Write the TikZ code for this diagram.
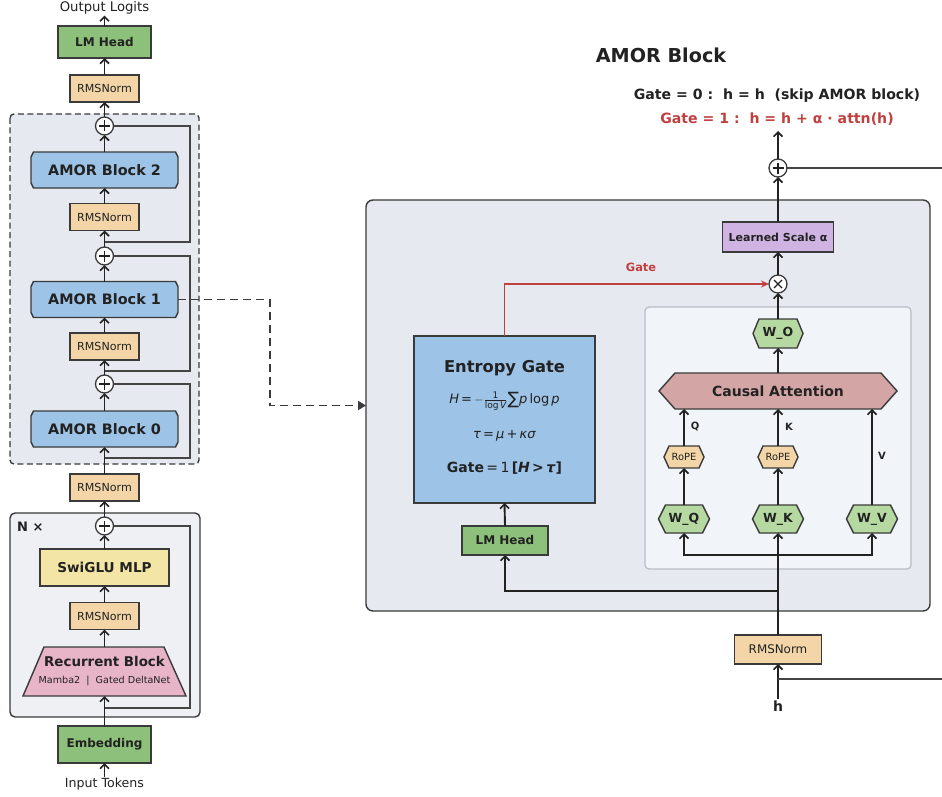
\documentclass[tikz,border=0pt]{standalone}
\usepackage{fontspec}
\setmainfont{DejaVu Sans}
\usepackage{amsmath}
\usetikzlibrary{arrows.meta,calc}

\definecolor{ink}{HTML}{222222}
\definecolor{edge}{HTML}{3A3A3A}
\definecolor{resc}{HTML}{444444}
\definecolor{gatered}{HTML}{C0403F}
\definecolor{headgreen}{HTML}{8DC07A}
\definecolor{projgreen}{HTML}{B5D9A0}
\definecolor{blockblue}{HTML}{9DC3E6}
\definecolor{normwheat}{HTML}{F3D5A8}
\definecolor{mlpkhaki}{HTML}{F3E5A5}
\definecolor{recpink}{HTML}{E8B4C8}
\definecolor{attnrose}{HTML}{D4A5A5}
\definecolor{scalelav}{HTML}{CFB3E3}
\definecolor{panelgray}{HTML}{E6E9EF}
\definecolor{panellight}{HTML}{EEF0F4}
\definecolor{attnpanel}{HTML}{F1F4F8}
\definecolor{attnborder}{HTML}{B8BCC4}

\newcommand\fsz[1]{\fontsize{#1}{#1}\selectfont}

% chamfered / hexagonal box: name, x, y, width, height, cut x, cut y, style, text
\newcommand\cutbox[9]{%
  \draw[#8] ({#2-#4/2+#6},{#3-#5/2}) -- ({#2+#4/2-#6},{#3-#5/2})
    -- ({#2+#4/2},{#3-#5/2+#7}) -- ({#2+#4/2},{#3+#5/2-#7})
    -- ({#2+#4/2-#6},{#3+#5/2}) -- ({#2-#4/2+#6},{#3+#5/2})
    -- ({#2-#4/2},{#3+#5/2-#7}) -- ({#2-#4/2},{#3-#5/2+#7}) -- cycle;
  \node[minimum width=#4, minimum height=#5, inner sep=0pt, outer sep=0pt, text=ink] (#1) at (#2,#3) {#9};
}

\tikzset{
  box/.style={draw=edge, line width=1.4pt, inner sep=0pt, outer sep=0pt, text=ink},
  shapeline/.style={draw=edge, line width=1.4pt},
  arr/.style={draw=ink, line width=1.9pt, -{Straight Barb[length=4.5pt,width=9pt,line width=1.6pt]}},
  link/.style={draw=ink, line width=1.9pt},
  res/.style={draw=resc, line width=1.3pt},
  redarr/.style={draw=gatered, line width=1.7pt, -{Stealth[length=8pt,width=7pt]}},
  dashlink/.style={draw=edge, line width=1.8pt, dash pattern=on 8pt off 5pt, -{Triangle[length=8pt,width=9pt]}},
  sumnode/.style={circle, draw=edge, fill=white, line width=1.3pt, minimum size=18pt, inner sep=0pt, outer sep=0pt},
  plusnode/.style={sumnode, path picture={
      \draw[ink, line width=1.2pt] ($(path picture bounding box.center)+(-5.5,0)$) -- ++(11,0)
        ($(path picture bounding box.center)+(0,-5.5)$) -- ++(0,11);}},
  timesnode/.style={sumnode, path picture={
      \draw[ink, line width=1.2pt] ($(path picture bounding box.center)+(-4,-4)$) -- ++(8,8)
        ($(path picture bounding box.center)+(-4,4)$) -- ++(8,-8);}},
  normbox/.style={box, fill=normwheat, minimum width=69, minimum height=27, font=\fsz{11.1}},
  headbox/.style={box, fill=headgreen, font=\fsz{12}\bfseries},
  plaintext/.style={text=ink, inner sep=1pt},
}

\begin{document}
\begin{tikzpicture}[x=1pt,y=-1pt]
\useasboundingbox (0,0) rectangle (942,797);
\fill[white] (0,0) rectangle (942,797);

% ---------------- left: full model stack ----------------
\draw[draw=edge, fill=panelgray, line width=1.4pt, dash pattern=on 6pt off 3.5pt, rounded corners=4pt]
  (10,114) rectangle (199,464);
\draw[draw=edge, fill=panellight, line width=1.4pt, rounded corners=5pt]
  (10,513) rectangle (200,717);
\node[plaintext, anchor=west, font=\fsz{13}\bfseries] (nrep) at (16,527) {N ×};

\node[plaintext, font=\fsz{13.2}] (outL) at (104.5,8) {Output Logits};
\node[headbox, minimum width=93, minimum height=32] (lmL) at (104.5,42) {LM Head};
\node[normbox] (rmsL4) at (104.5,88.5) {RMSNorm};
\node[plusnode] (plus2) at (104.5,126) {};
\cutbox{blk2}{104.5}{170}{147}{36}{2.5}{5}{shapeline, fill=blockblue}{\fsz{14.4}\bfseries AMOR Block 2}
\node[normbox] (rmsL3) at (104.5,217) {RMSNorm};
\node[plusnode] (plus1) at (104.5,256) {};
\cutbox{blk1}{104.5}{299.5}{147}{36}{2.5}{5}{shapeline, fill=blockblue}{\fsz{14.4}\bfseries AMOR Block 1}
\node[normbox] (rmsL2) at (104.5,346.5) {RMSNorm};
\node[plusnode] (plus0) at (104.5,384) {};
\cutbox{blk0}{104.5}{429}{147}{36}{2.5}{5}{shapeline, fill=blockblue}{\fsz{14.4}\bfseries AMOR Block 0}
\node[normbox] (rmsL1) at (104.5,487.5) {RMSNorm};
\node[plusnode] (plusN) at (104.5,526) {};
\node[box, fill=mlpkhaki, minimum width=129, minimum height=37, font=\fsz{13.6}\bfseries] (mlp) at (104.5,567.5) {SwiGLU MLP};
\node[normbox] (rmsL0) at (104.5,616) {RMSNorm};
\draw[shapeline, fill=recpink] (44,647) -- (164,647) -- (186,696) -- (23,696) -- cycle;
\node[minimum width=163, minimum height=49, inner sep=0pt, outer sep=0pt, text=ink, align=center] (rec) at (104.5,671.5)
  {{\fsz{13.4}\bfseries Recurrent Block}\\[5pt]{\fsz{9.6}Mamba2\ \ |\ \ Gated DeltaNet}};
\node[headbox, minimum width=93, minimum height=37] (emb) at (104.5,744.5) {Embedding};
\node[plaintext, font=\fsz{12.6}] (inL) at (104.5,784) {Input Tokens};

\draw[arr] (inL.north) -- (emb.south);
\draw[arr] (emb.north) -- (rec.south);
\draw[arr] (rec.north) -- (rmsL0.south);
\draw[arr] (rmsL0.north) -- (mlp.south);
\draw[arr] (mlp.north) -- (plusN.south);
\draw[arr] (plusN.north) -- (rmsL1.south);
\draw[arr] (rmsL1.north) -- (blk0.south);
\draw[arr] (blk0.north) -- (plus0.south);
\draw[arr] (plus0.north) -- (rmsL2.south);
\draw[arr] (rmsL2.north) -- (blk1.south);
\draw[arr] (blk1.north) -- (plus1.south);
\draw[arr] (plus1.north) -- (rmsL3.south);
\draw[arr] (rmsL3.north) -- (blk2.south);
\draw[arr] (blk2.north) -- (plus2.south);
\draw[arr] (plus2.north) -- (rmsL4.south);
\draw[arr] (rmsL4.north) -- (lmL.south);
\draw[arr] (lmL.north) -- (outL.south);

% residual skips
\coordinate (skipx) at (190,0);
\coordinate (tapN) at (104.5,708);
\coordinate (tap0) at (104.5,458);
\coordinate (tap1) at (104.5,371);
\coordinate (tap2) at (104.5,242);
\draw[res] (tapN) -- (tapN -| skipx) |- (plusN.east);
\draw[res] (tap0) -- (tap0 -| skipx) |- (plus0.east);
\draw[res] (tap1) -- (tap1 -| skipx) |- (plus1.east);
\draw[res] (tap2) -- (tap2 -| skipx) |- (plus2.east);

% ---------------- right: AMOR block detail ----------------
\node[draw=edge, fill=panelgray, line width=1.4pt, rounded corners=7pt, minimum width=564, minimum height=411, inner sep=0pt, outer sep=0pt] (amorbox) at (648,405.5) {};
\draw[draw=attnborder, fill=attnpanel, line width=1.2pt, rounded corners=4pt] (645,307) rectangle (911,569);

\node[plaintext, font=\fsz{19.2}\bfseries] (title) at (661,55) {AMOR Block};
\node[plaintext, font=\fsz{14.1}\bfseries] (gate0) at (777,96) {Gate = 0 :\ \ h = h\ \ (skip AMOR block)};
\node[plaintext, font=\fsz{14.1}\bfseries, text=gatered] (gate1) at (777,119) {Gate = 1 :\ \ h = h + α · attn(h)};
\coordinate (outR) at (778,131);

\node[plusnode] (plusR) at (778,168) {};
\node[box, fill=scalelav, minimum width=111, minimum height=30, font=\fsz{11}\bfseries] (scale) at (778,237) {Learned Scale α};
\node[timesnode] (timesR) at (778,284) {};
\node[plaintext, font=\fsz{11.4}\bfseries, text=gatered] (gatelab) at (641,267) {Gate};

\cutbox{WO}{778}{333.5}{50}{29}{6}{14.5}{shapeline, fill=projgreen}{\fsz{12.5}\bfseries W\_O}
\cutbox{attn}{778}{391}{238}{36}{16}{18}{shapeline, fill=attnrose}{\fsz{14}\bfseries Causal Attention}
\cutbox{ropeQ}{684}{457}{40}{22}{5}{11}{shapeline, fill=normwheat}{\fsz{9.9}RoPE}
\cutbox{ropeK}{778}{457}{40}{22}{5}{11}{shapeline, fill=normwheat}{\fsz{9.9}RoPE}
\cutbox{WQ}{684}{519}{51}{28}{7}{14}{shapeline, fill=projgreen}{\fsz{12.5}\bfseries W\_Q}
\cutbox{WK}{778}{519}{51}{28}{7}{14}{shapeline, fill=projgreen}{\fsz{12.5}\bfseries W\_K}
\cutbox{WV}{872}{519}{51}{28}{7}{14}{shapeline, fill=projgreen}{\fsz{12.5}\bfseries W\_V}
\node[plaintext, font=\fsz{10}\bfseries] (qlab) at (695,427) {Q};
\node[plaintext, font=\fsz{10}\bfseries] (klab) at (789,427) {K};
\node[plaintext, font=\fsz{10}\bfseries] (vlab) at (882,456) {V};

\node[box, fill=blockblue, minimum width=181, minimum height=167] (eg) at (504.5,419.5) {};
\node[plaintext, font=\fsz{16.3}\bfseries] (egtitle) at (504.5,368) {Entropy Gate};
\node[plaintext, font=\fsz{13}] (egH) at (504.5,401)
  {\textit{H}\,=\,$-\frac{\text{1}}{\text{log}\,\textit{V}}$\raisebox{-1.5pt}{\fsz{17}∑}\textit{p}\,log\,\textit{p}};
\node[plaintext, font=\fsz{13}] (egtau) at (504.5,436) {\textit{τ}\,=\,\textit{μ}\,+\,\textit{κσ}};
\node[plaintext, font=\fsz{14}] (egrule) at (504.5,468)
  {\textbf{Gate}\,=\,1\,\textbf{[\textit{H}\,>\,\textit{τ}]}};
\node[headbox, minimum width=86, minimum height=29] (lmR) at (505,540.5) {LM Head};

\node[box, fill=normwheat, minimum width=87, minimum height=29, font=\fsz{11.9}] (rmsR) at (778,649.5) {RMSNorm};
\node[plaintext, font=\fsz{14}\bfseries] (hlab) at (778,706) {h};

% connectors inside the block
\coordinate (hsplit) at (778,679);
\coordinate (edgeLow) at (942,679);
\coordinate (edgeTop) at (942,168);
\coordinate (qkv) at (778,555);
\coordinate (lmtap) at (778,591);
\draw[arr] (hlab.north) -- (rmsR.south);
\draw[res] (hsplit) -- (edgeLow);
\draw[link] (rmsR.north) -- (qkv);
\draw[arr] (qkv) -- (WK.south);
\draw[arr] (qkv) -| (WQ.south);
\draw[arr] (qkv) -| (WV.south);
\draw[arr] (lmtap) -| (lmR.south);
\draw[arr] (WQ.north) -- (ropeQ.south);
\draw[arr] (WK.north) -- (ropeK.south);
\draw[arr] (ropeQ.north) -- (ropeQ.north |- attn.south);
\draw[arr] (ropeK.north) -- (attn.south);
\draw[arr] (WV.north) -- (WV.north |- attn.south);
\draw[arr] (attn.north) -- (WO.south);
\draw[arr] (WO.north) -- (timesR.south);
\draw[arr] (timesR.north) -- (scale.south);
\draw[arr] (scale.north) -- (plusR.south);
\draw[arr] (plusR.north) -- (outR);
\draw[res] (plusR.east) -- (edgeTop);
\draw[arr] (lmR.north) -- (eg.south);
\draw[redarr] (eg.north) |- (timesR.west);

% zoom link from the stack to the detail
\coordinate (dbend) at (270,299.5);
\draw[dashlink] (blk1.east) -- (dbend) |- (amorbox.west);
\end{tikzpicture}
\end{document}
